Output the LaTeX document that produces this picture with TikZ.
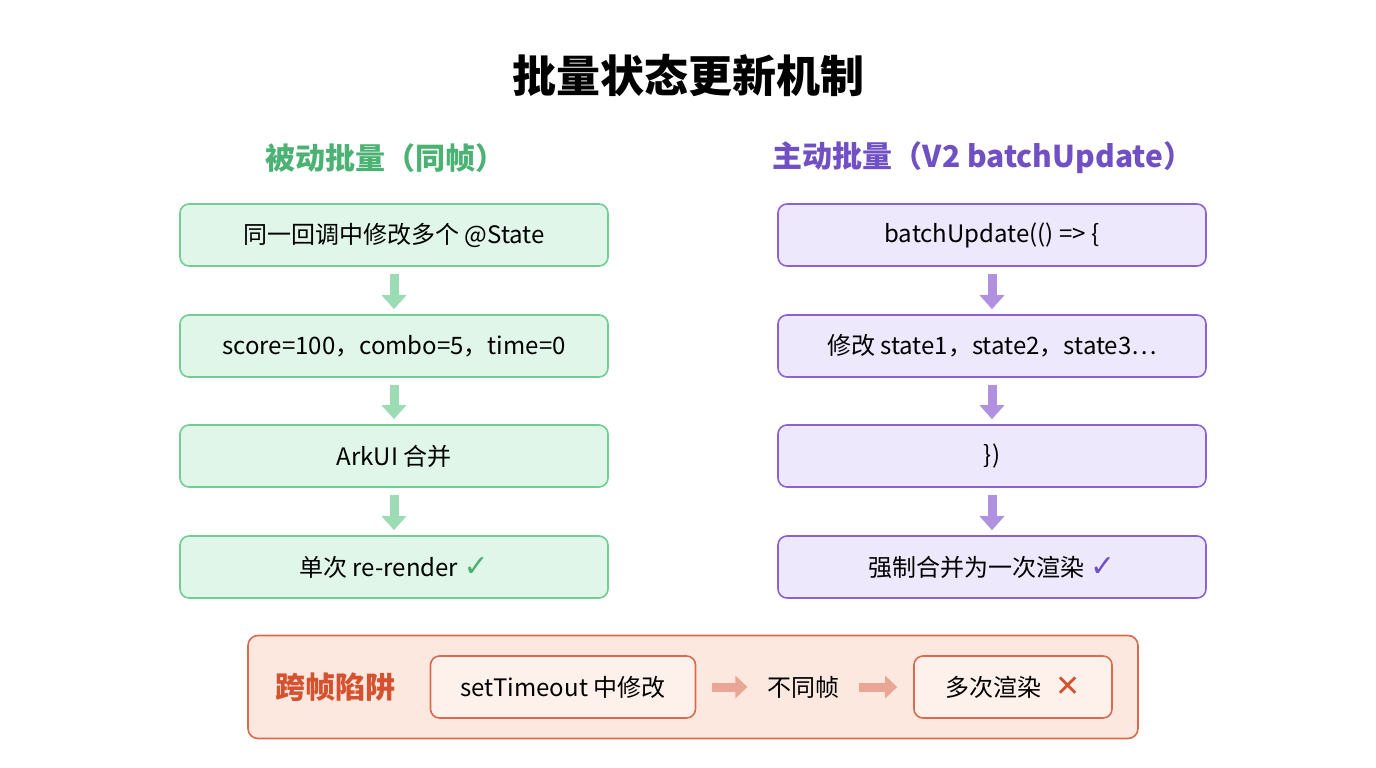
\documentclass[tikz,border=0pt]{standalone}
\usepackage{fontspec}
\setmainfont{Noto Sans CJK SC}
\newfontfamily\symfont{DejaVu Sans}
\usetikzlibrary{arrows.meta,positioning}
\definecolor{gfill}{HTML}{DFF6E8}
\definecolor{gdraw}{HTML}{72CD95}
\definecolor{gtext}{HTML}{4BB273}
\definecolor{pfill}{HTML}{EEE8FC}
\definecolor{pdraw}{HTML}{8C62D1}
\definecolor{ptext}{HTML}{7150C4}
\definecolor{rfill}{HTML}{FDE8E0}
\definecolor{rdraw}{HTML}{DA6A4E}
\definecolor{rtext}{HTML}{D4522F}
\tikzset{
  step/.style={draw=#1draw, fill=#1fill, line width=1.6pt, rounded corners=9pt,
    minimum width=428pt, minimum height=62pt, font=\fontsize{24}{28}\selectfont},
  flow/.style={-{Triangle[length=14pt,width=24pt]}, line width=9pt, draw=#1draw!70,
    shorten <=7pt, shorten >=5pt},
  small/.style={draw=rdraw, fill=rfill!60, line width=1.6pt, rounded corners=9pt,
    minimum height=62pt, font=\fontsize{24}{28}\selectfont},
  side/.style={-{Triangle[length=12pt,width=22pt]}, line width=9pt, draw=rdraw!60}
}
\begin{document}
\begin{tikzpicture}[x=1pt,y=-1pt]
    \useasboundingbox (0,0) rectangle (1376,768);

    \node (title) at (688,75) {\fontsize{44}{50}\selectfont\bfseries 批量状态更新机制};

    % passive batching
    \node[text=gtext] (lhead) at (385,158) {\fontsize{30}{34}\selectfont\bfseries 被动批量（同帧）};
    \node[step=g] (l1) at (394,235) {同一回调中修改多个 @State};
    \node[step=g] (l2) at (394,346) {score=100，combo=5，time=0};
    \node[step=g] (l3) at (394,456) {ArkUI 合并};
    \node[step=g] (l4) at (394,567) {单次 re-render {\color{gtext}\symfont\bfseries\fontsize{30}{30}\selectfont ✓}};
    \foreach \a/\b in {l1/l2,l2/l3,l3/l4}
        \draw[flow=g] (\a) -- (\b);

    % active batching
    \node[text=ptext] (rhead) at (983,158) {\fontsize{30}{34}\selectfont\bfseries 主动批量（V2 batchUpdate）};
    \node[step=p] (r1) at (992,235) {batchUpdate(() => \{};
    \node[step=p] (r2) at (992,346) {修改 state1，state2，state3…};
    \node[step=p] (r3) at (992,456) {\})};
    \node[step=p] (r4) at (992,567) {强制合并为一次渲染 {\color{ptext}\symfont\bfseries\fontsize{30}{30}\selectfont ✓}};
    \foreach \a/\b in {r1/r2,r2/r3,r3/r4}
        \draw[flow=p] (\a) -- (\b);

    % cross-frame pitfall
    \node[draw=rdraw, fill=rfill, line width=1.6pt, rounded corners=10pt,
        minimum width=890pt, minimum height=103pt] (trap) at (693,687) {};
    \node[text=rtext] (tlabel) at (335,687) {\fontsize{30}{34}\selectfont\bfseries 跨帧陷阱};
    \node[small, minimum width=265pt] (t1) at (563,687) {setTimeout 中修改};
    \node[font=\fontsize{24}{28}\selectfont] (t2) at (803,687) {不同帧};
    \node[small, minimum width=198pt] (t3) at (1013,687) {多次渲染 \hspace{8pt}{\color{rtext}\symfont\bfseries\fontsize{30}{30}\selectfont ✕}};
    \draw[side] ([xshift=16pt]t1.east) -- ([xshift=-16pt]t2.west);
    \draw[side] ([xshift=16pt]t2.east) -- ([xshift=-16pt]t3.west);

\end{tikzpicture}
\end{document}
